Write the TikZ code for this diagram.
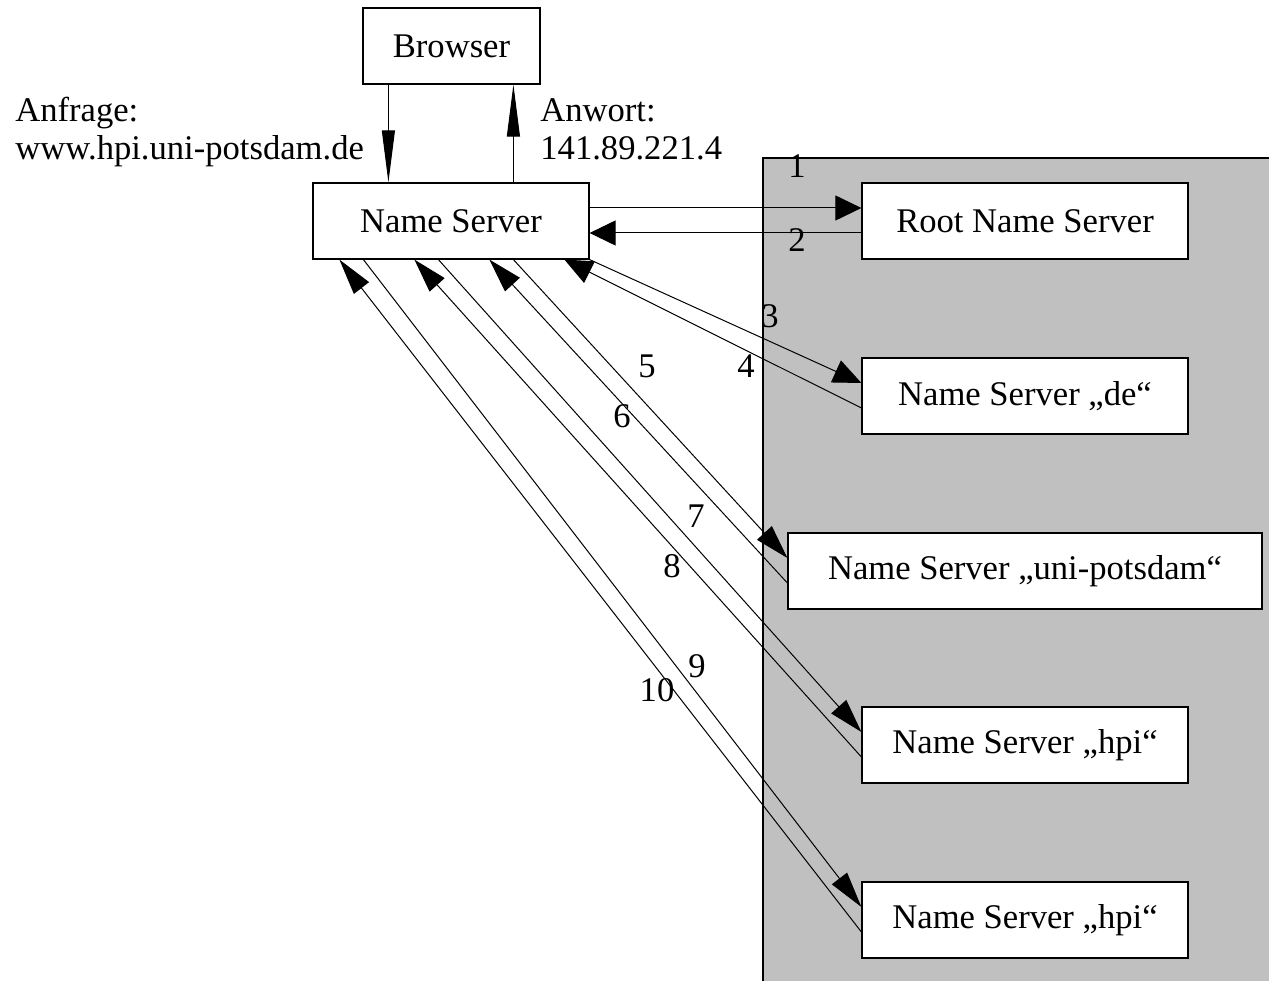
\documentclass[tikz,border=0pt]{standalone}
\usepackage{fontspec}
\setmainfont{Liberation Serif}
\usepackage{tikz}
\usetikzlibrary{arrows.meta, calc, positioning}
\definecolor{hintergrund}{RGB}{192,192,192}
\tikzstyle{box} = [draw, line width=0.6pt, fill=white, minimum height=38pt, inner sep=0pt]
\tikzset{pfeil/.style 2 args={line width=0.5pt, -{Triangle[length=#1, width=#2]}}}

\begin{document}
\begin{tikzpicture}[x=0.5pt, y=0.5pt, every node/.style={font=\fontsize{17.3}{19.5}\selectfont}]
        \useasboundingbox (0,0) rectangle (1269,980);
        % grauer Bereich
        \fill[hintergrund] (763,-10) rectangle (1280,822);
        \draw[line width=0.6pt] (763,-10) -- (763,822) -- (1280,822);

        \node[box, minimum width=88.5pt] (browser) at (451.5,934) {Browser};
        \node[box, minimum width=138pt] (ns) at (451,759) {Name Server};
        \node[box, minimum width=163pt] (root) at (1025,759) {Root Name Server};
        \node[box, minimum width=163pt] (de) at (1025,584) {Name Server „de“};
        \node[box, minimum width=237pt] (uni) at (1025,409) {Name Server „uni-potsdam“};
        \node[box, minimum width=163pt] (hpi) at (1025,235) {Name Server „hpi“};
        \node[box, minimum width=163pt] (hpiB) at (1025,60) {Name Server „hpi“};

        \node[anchor=base west, inner sep=0pt] (anfrage) at (15,858) {Anfrage:};
        \node[anchor=base west, inner sep=0pt] (url) at (15,820) {www.hpi.uni-potsdam.de};
        \node[anchor=base west, inner sep=0pt] (antwort) at (540,858) {Anwort:};
        \node[anchor=base west, inner sep=0pt] (ip) at (540,820) {141.89.221.4};

        % Browser <-> Name Server
        \draw[pfeil={26pt}{6.5pt}] ($(browser.south west)+(26,0)$) -- ($(ns.north west)+(76,0)$);
        \draw[pfeil={26pt}{6.5pt}] ($(ns.north west)+(201,0)$) -- ($(browser.south west)+(151,0)$);

        % Anfragen an die Name Server
        \draw[pfeil={13pt}{12.5pt}] ($(ns.east)+(0,13)$) -- ($(root.west)+(0,13)$);
        \draw[pfeil={13pt}{12.5pt}] ($(root.west)+(0,-12)$) -- ($(ns.east)+(0,-12)$);
        \draw[pfeil={14pt}{12pt}] (ns.south east) -- ($(de.west)+(0,13)$);
        \draw[pfeil={14pt}{12pt}] ($(de.west)+(0,-12)$) -- ($(ns.south west)+(252,0)$);
        \draw[pfeil={17pt}{10pt}] ($(ns.south west)+(201,0)$) -- ($(uni.west)+(0,13)$);
        \draw[pfeil={17pt}{10pt}] ($(uni.west)+(0,-12)$) -- ($(ns.south west)+(177,0)$);
        \draw[pfeil={17pt}{10pt}] ($(ns.south west)+(126,0)$) -- ($(hpi.west)+(0,13)$);
        \draw[pfeil={17pt}{10pt}] ($(hpi.west)+(0,-12)$) -- ($(ns.south west)+(102,0)$);
        \draw[pfeil={18pt}{9.5pt}] ($(ns.south west)+(51,0)$) -- ($(hpiB.west)+(0,13)$);
        \draw[pfeil={18pt}{9.5pt}] ($(hpiB.west)+(0,-12)$) -- ($(ns.south west)+(27,0)$);

        % Nummern
        \node (n1) at (797,814) {1};
        \node (n2) at (797,740) {2};
        \node (n3) at (770,664) {3};
        \node (n4) at (746,614) {4};
        \node (n5) at (647,614) {5};
        \node (n6) at (622,564) {6};
        \node (n7) at (696,464) {7};
        \node (n8) at (672,414) {8};
        \node (n9) at (697,314) {9};
        \node (n10) at (657,290) {10};
    \end{tikzpicture}
\end{document}
